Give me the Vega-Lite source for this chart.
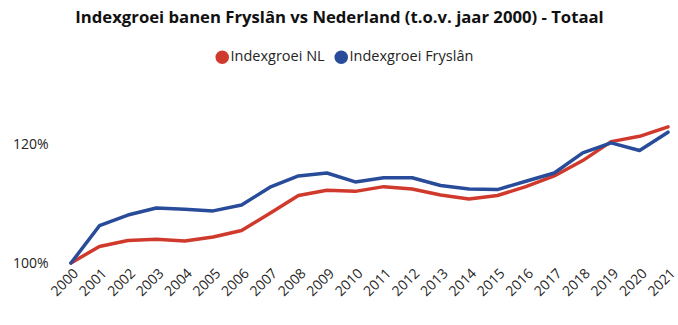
{
  "$schema": "https://vega.github.io/schema/vega-lite/v6.json",
  "width": 597,
  "height": 148,
  "autosize": {"type": "none"},
  "padding": {"left": 71, "top": 115, "right": 10, "bottom": 62},
  "background": "white",
  "title": {
    "text": "Indexgroei banen Fryslân vs Nederland (t.o.v. jaar 2000) - Totaal",
    "font": "Open Sans",
    "fontSize": 16.7,
    "fontWeight": "bold",
    "color": "#111111",
    "anchor": "middle",
    "dx": -30,
    "offset": 23
  },
  "config": {"view": {"stroke": null}, "font": "Open Sans"},
  "data": {
    "values": [
      {"year": "2000", "series": "Indexgroei NL", "value": 100},
      {"year": "2001", "series": "Indexgroei NL", "value": 102.8},
      {"year": "2002", "series": "Indexgroei NL", "value": 103.8},
      {"year": "2003", "series": "Indexgroei NL", "value": 104.0},
      {"year": "2004", "series": "Indexgroei NL", "value": 103.7},
      {"year": "2005", "series": "Indexgroei NL", "value": 104.4},
      {"year": "2006", "series": "Indexgroei NL", "value": 105.5},
      {"year": "2007", "series": "Indexgroei NL", "value": 108.4},
      {"year": "2008", "series": "Indexgroei NL", "value": 111.4},
      {"year": "2009", "series": "Indexgroei NL", "value": 112.3},
      {"year": "2010", "series": "Indexgroei NL", "value": 112.1},
      {"year": "2011", "series": "Indexgroei NL", "value": 112.9},
      {"year": "2012", "series": "Indexgroei NL", "value": 112.5},
      {"year": "2013", "series": "Indexgroei NL", "value": 111.5},
      {"year": "2014", "series": "Indexgroei NL", "value": 110.8},
      {"year": "2015", "series": "Indexgroei NL", "value": 111.4},
      {"year": "2016", "series": "Indexgroei NL", "value": 112.9},
      {"year": "2017", "series": "Indexgroei NL", "value": 114.7},
      {"year": "2018", "series": "Indexgroei NL", "value": 117.3},
      {"year": "2019", "series": "Indexgroei NL", "value": 120.5},
      {"year": "2020", "series": "Indexgroei NL", "value": 121.4},
      {"year": "2021", "series": "Indexgroei NL", "value": 123.0},
      {"year": "2000", "series": "Indexgroei Fryslân", "value": 100},
      {"year": "2001", "series": "Indexgroei Fryslân", "value": 106.3},
      {"year": "2002", "series": "Indexgroei Fryslân", "value": 108.1},
      {"year": "2003", "series": "Indexgroei Fryslân", "value": 109.3},
      {"year": "2004", "series": "Indexgroei Fryslân", "value": 109.1},
      {"year": "2005", "series": "Indexgroei Fryslân", "value": 108.8},
      {"year": "2006", "series": "Indexgroei Fryslân", "value": 109.8},
      {"year": "2007", "series": "Indexgroei Fryslân", "value": 112.8},
      {"year": "2008", "series": "Indexgroei Fryslân", "value": 114.7},
      {"year": "2009", "series": "Indexgroei Fryslân", "value": 115.2},
      {"year": "2010", "series": "Indexgroei Fryslân", "value": 113.7},
      {"year": "2011", "series": "Indexgroei Fryslân", "value": 114.4},
      {"year": "2012", "series": "Indexgroei Fryslân", "value": 114.4},
      {"year": "2013", "series": "Indexgroei Fryslân", "value": 113.1},
      {"year": "2014", "series": "Indexgroei Fryslân", "value": 112.5},
      {"year": "2015", "series": "Indexgroei Fryslân", "value": 112.4},
      {"year": "2016", "series": "Indexgroei Fryslân", "value": 113.8},
      {"year": "2017", "series": "Indexgroei Fryslân", "value": 115.2},
      {"year": "2018", "series": "Indexgroei Fryslân", "value": 118.6},
      {"year": "2019", "series": "Indexgroei Fryslân", "value": 120.3},
      {"year": "2020", "series": "Indexgroei Fryslân", "value": 119.0},
      {"year": "2021", "series": "Indexgroei Fryslân", "value": 122.1}
    ]
  },
  "mark": {"type": "line", "strokeWidth": 3.5, "strokeJoin": "round", "strokeCap": "round"},
  "encoding": {
    "x": {
      "field": "year",
      "type": "ordinal",
      "scale": {"type": "point", "padding": 0},
      "axis": {
        "title": null,
        "labelAngle": -45,
        "labelAlign": "right",
        "labelBaseline": "top",
        "labelPadding": 3,
        "labelFontSize": 14,
        "labelColor": "#252423",
        "labelFont": "Open Sans",
        "labelOverlap": false,
        "ticks": false,
        "domain": false,
        "grid": false
      }
    },
    "y": {
      "field": "value",
      "type": "quantitative",
      "scale": {"domain": [100, 125], "nice": false, "zero": false},
      "axis": {
        "title": null,
        "values": [100, 120],
        "labelExpr": "datum.value + '%'",
        "labelFontSize": 14,
        "labelColor": "#252423",
        "labelFont": "Open Sans",
        "labelPadding": 23,
        "ticks": false,
        "domain": false,
        "grid": false
      }
    },
    "color": {
      "field": "series",
      "type": "nominal",
      "sort": ["Indexgroei NL", "Indexgroei Fryslân"],
      "scale": {"domain": ["Indexgroei NL", "Indexgroei Fryslân"], "range": ["#D03A2C", "#284B9A"]},
      "legend": {
        "title": null,
        "orient": "none",
        "direction": "horizontal",
        "legendX": 144,
        "legendY": -65,
        "symbolType": "circle",
        "symbolSize": 182,
        "labelFontSize": 14.5,
        "labelFont": "Open Sans",
        "labelColor": "#252423",
        "labelOffset": 1,
        "columnPadding": 9,
        "encode": {
          "symbols": {
            "update": {
              "fill": {"scale": "color", "field": "value"},
              "fillOpacity": {"value": 1},
              "strokeWidth": {"value": 0}
            }
          }
        }
      }
    }
  }
}
